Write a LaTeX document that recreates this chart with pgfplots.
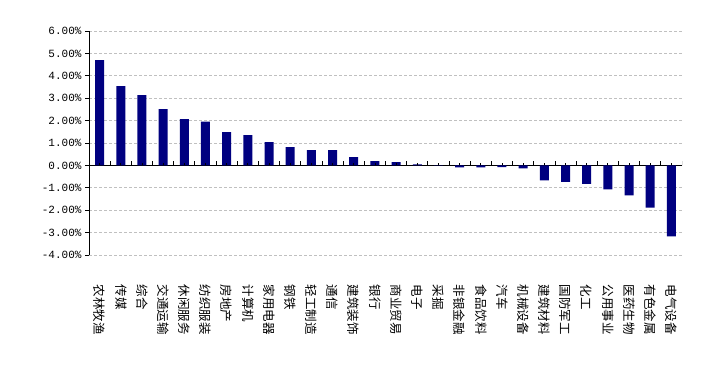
\documentclass[border=0pt]{standalone}
\usepackage{fontspec}
\usepackage{pgfplots}
\pgfplotsset{compat=1.18}
\newfontfamily\cjk{Noto Sans CJK SC}
\newfontfamily\numfont{Liberation Mono}
\definecolor{barnavy}{HTML}{000080}
\definecolor{gridgray}{HTML}{C0C0C0}
\begin{document}
\begin{tikzpicture}
\useasboundingbox (0,0) rectangle (723pt,388pt);
\begin{axis}[
  at={(89pt,133pt)}, anchor=south west,
  scale only axis, width=593pt, height=224pt,
  xmin=-0.5, xmax=27.5, ymin=-4, ymax=6,
  axis x line=middle, axis y line=left,
  hide obscured x ticks=false, hide obscured y ticks=false,
  axis line style={-, black, line width=0.8pt},
  tick align=outside,
  major tick length=4pt,
  ytick={-4,-3,-2,-1,0,1,2,3,4,5,6},
  yticklabels={-4.00\%,-3.00\%,-2.00\%,-1.00\%,0.00\%,1.00\%,2.00\%,3.00\%,4.00\%,5.00\%,6.00\%},
  yticklabel style={font=\numfont\fontsize{11}{11}\selectfont, anchor=east},
  ytick style={black, line width=0.8pt},
  xtick={0,...,27},
  xtick style={draw=none},
  xticklabels={农林牧渔,传媒,综合,交通运输,休闲服务,纺织服装,房地产,计算机,家用电器,钢铁,轻工制造,通信,建筑装饰,银行,商业贸易,电子,采掘,非银金融,食品饮料,汽车,机械设备,建筑材料,国防军工,化工,公用事业,医药生物,有色金属,电气设备},
  xticklabel style={font=\cjk\fontsize{12.5}{12.5}\selectfont, rotate=-90, anchor=west},
  xticklabel shift=112pt,
  ymajorgrids,
  grid style={gridgray, line width=0.8pt, dash pattern=on 3pt off 2pt},
]
\addplot[ybar, bar width=9pt, fill=barnavy, draw=none] coordinates {
 (0,4.70) (1,3.54) (2,3.14) (3,2.51) (4,2.07) (5,1.95) (6,1.49) (7,1.35)
 (8,1.04) (9,0.82) (10,0.68) (11,0.68) (12,0.37) (13,0.19) (14,0.15)
 (15,0.05) (16,0.01) (17,-0.09) (18,-0.09) (19,-0.08) (20,-0.13)
 (21,-0.67) (22,-0.74) (23,-0.83) (24,-1.07) (25,-1.34) (26,-1.88) (27,-3.17)
};
\pgfplotsinvokeforeach{-0.5,0.5,...,27.5}{\draw[black, line width=0.8pt] (axis cs:#1,0) -- ++(0pt,4pt);}
\pgfplotsinvokeforeach{0,...,27}{\draw[black, line width=0.8pt] (axis cs:#1,0) -- ++(0pt,2pt);}
\end{axis}
\end{tikzpicture}
\end{document}
